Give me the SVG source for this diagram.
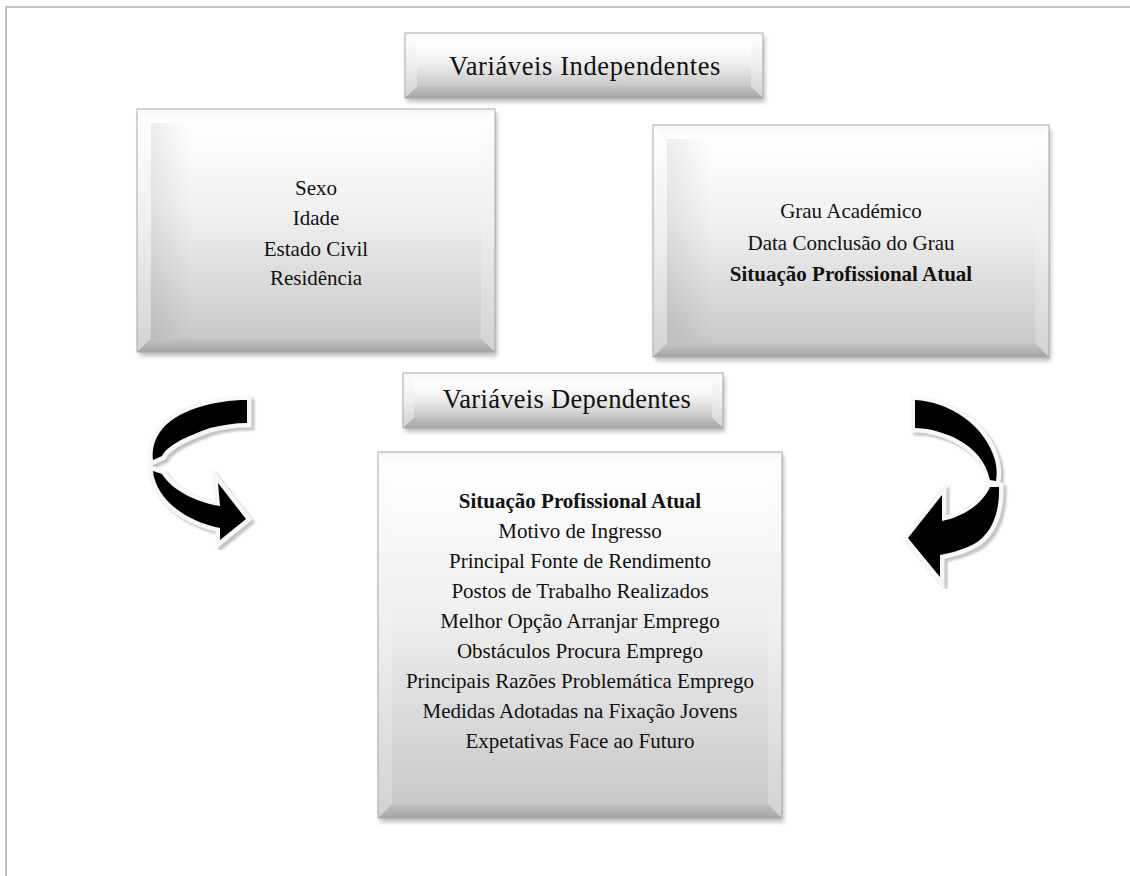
<svg xmlns="http://www.w3.org/2000/svg" width="1130" height="876" viewBox="0 0 1130 876">
<style>
.t{font-family:"Liberation Serif","Times New Roman",serif;fill:#111;text-anchor:middle}
.big{font-size:26.5px}
.sm{font-size:21px}
.b{font-weight:bold}
.edge{fill:none;stroke:#a9a9a9;stroke-width:1}
.top{fill:url(#gTop)}
.side{fill:url(#gSide)}
.bot{fill:url(#gBot)}
.face{fill:url(#gFace)}
.shadow{fill:#8a8a8a;opacity:.55;filter:url(#blur)}
.arr{fill:#000;stroke:#f7f7f7;stroke-width:9;stroke-linejoin:miter;paint-order:stroke}
.arrsh{fill:#c4c4c4;stroke:#c4c4c4;stroke-width:9;stroke-linejoin:miter;filter:url(#blur1)}
</style>
<defs>
<filter id="blur" x="-10%" y="-10%" width="120%" height="130%"><feGaussianBlur stdDeviation="2.2"/></filter>
<filter id="blur1" x="-10%" y="-10%" width="120%" height="120%"><feGaussianBlur stdDeviation="1.2"/></filter>
<linearGradient id="gFace" x1="0" y1="0" x2="0" y2="1">
<stop offset="0" stop-color="#ffffff"/><stop offset="0.4" stop-color="#f1f1f1"/><stop offset="1" stop-color="#c9c9c9"/>
</linearGradient>
<linearGradient id="gSide" x1="0" y1="0" x2="0" y2="1">
<stop offset="0" stop-color="#ffffff"/><stop offset="0.5" stop-color="#eeeeee"/><stop offset="1" stop-color="#d2d2d2"/>
</linearGradient>
<linearGradient id="gTop" x1="0" y1="0" x2="0" y2="1">
<stop offset="0" stop-color="#f6f6f6"/><stop offset="1" stop-color="#ffffff"/>
</linearGradient>
<linearGradient id="gBot" x1="0" y1="0" x2="0" y2="1">
<stop offset="0" stop-color="#c4c4c4"/><stop offset="1" stop-color="#a4a4a4"/>
</linearGradient>
<linearGradient id="gShadeL" x1="0" y1="0" x2="1" y2="0">
<stop offset="0" stop-color="#000" stop-opacity="0.07"/><stop offset="0.12" stop-color="#000" stop-opacity="0"/>
</linearGradient>
</defs>

<rect x="0" y="0" width="1130" height="876" fill="#ffffff"/>
<g id="page-border">
<path d="M6 876 V7 H1130" fill="none" stroke="#c2c2c2" stroke-width="2"/>
</g>

<g id="title-independentes">
<rect class="shadow" x="407" y="37" width="358" height="65"/>
<rect x="405" y="33" width="358" height="65" fill="#eee"/>
<polygon class="top" points="405,33 763,33 751,45 417,45"/>
<polygon class="side" points="405,33 417,45 417,86 405,98"/>
<polygon class="side" points="763,33 763,98 751,86 751,45"/>
<polygon class="bot" points="405,98 417,86 751,86 763,98"/>
<rect class="face" x="417" y="45" width="334" height="41"/>
<rect class="edge" x="405" y="33" width="358" height="65"/>
<text class="t big" x="585" y="75" letter-spacing="0.6">Variáveis Independentes</text>
</g>

<g id="box-pessoais">
<rect class="shadow" x="139" y="113" width="358" height="243"/>
<rect x="137" y="109" width="358" height="243" fill="#eee"/>
<polygon class="top" points="137,109 495,109 481,123 151,123"/>
<polygon class="side" points="137,109 151,123 151,338 137,352"/>
<polygon class="side" points="495,109 495,352 481,338 481,123"/>
<polygon class="bot" points="137,352 151,338 481,338 495,352"/>
<rect class="face" x="151" y="123" width="330" height="215"/>
<rect x="151" y="123" width="330" height="215" fill="url(#gShadeL)"/>
<rect class="edge" x="137" y="109" width="358" height="243"/>
<text class="t sm" x="316" y="195">Sexo</text>
<text class="t sm" x="316" y="225">Idade</text>
<text class="t sm" x="316" y="256">Estado Civil</text>
<text class="t sm" x="316" y="285">Residência</text>
</g>

<g id="box-academicas">
<rect class="shadow" x="655" y="129" width="396" height="232"/>
<rect x="653" y="125" width="396" height="232" fill="#eee"/>
<polygon class="top" points="653,125 1049,125 1035,139 667,139"/>
<polygon class="side" points="653,125 667,139 667,343 653,357"/>
<polygon class="side" points="1049,125 1049,357 1035,343 1035,139"/>
<polygon class="bot" points="653,357 667,343 1035,343 1049,357"/>
<rect class="face" x="667" y="139" width="368" height="204"/>
<rect x="667" y="139" width="368" height="204" fill="url(#gShadeL)"/>
<rect class="edge" x="653" y="125" width="396" height="232"/>
<text class="t sm" x="851" y="218">Grau Académico</text>
<text class="t sm" x="851" y="250">Data Conclusão do Grau</text>
<text class="t sm b" x="851" y="281">Situação Profissional Atual</text>
</g>

<g id="title-dependentes">
<rect class="shadow" x="405" y="377" width="320" height="55"/>
<rect x="403" y="373" width="320" height="55" fill="#eee"/>
<polygon class="top" points="403,373 723,373 712,384 414,384"/>
<polygon class="side" points="403,373 414,384 414,417 403,428"/>
<polygon class="side" points="723,373 723,428 712,417 712,384"/>
<polygon class="bot" points="403,428 414,417 712,417 723,428"/>
<rect class="face" x="414" y="384" width="298" height="33"/>
<rect class="edge" x="403" y="373" width="320" height="55"/>
<text class="t big" x="567" y="408" letter-spacing="0.3">Variáveis Dependentes</text>
</g>

<g id="box-dependentes">
<rect class="shadow" x="380" y="456" width="404" height="366"/>
<rect x="378" y="452" width="404" height="366" fill="#eee"/>
<polygon class="top" points="378,452 782,452 768,466 392,466"/>
<polygon class="side" points="378,452 392,466 392,804 378,818"/>
<polygon class="side" points="782,452 782,818 768,804 768,466"/>
<polygon class="bot" points="378,818 392,804 768,804 782,818"/>
<rect class="face" x="392" y="466" width="376" height="338"/>
<rect class="edge" x="378" y="452" width="404" height="366"/>
<text class="t sm b" x="580" y="508">Situação Profissional Atual</text>
<text class="t sm" x="580" y="538">Motivo de Ingresso</text>
<text class="t sm" x="580" y="568">Principal Fonte de Rendimento</text>
<text class="t sm" x="580" y="598">Postos de Trabalho Realizados</text>
<text class="t sm" x="580" y="628">Melhor Opção Arranjar Emprego</text>
<text class="t sm" x="580" y="658">Obstáculos Procura Emprego</text>
<text class="t sm" x="580" y="688">Principais Razões Problemática Emprego</text>
<text class="t sm" x="580" y="718">Medidas Adotadas na Fixação Jovens</text>
<text class="t sm" x="580" y="748">Expetativas Face ao Futuro</text>
</g>

<g id="connectors">
<g id="arrow-left">
<g transform="translate(3,3)">
<path class="arrsh" d="M247 400 C215 400 175 410 160 432 C153 442 152 452 153 460 L162 456 C168 445 185 437 210 428 C222 425 235 423 247 423 Z"/>
<path class="arrsh" d="M153 471 C155 495 180 520 220 528 L220 540 L246 519 L218 483 L220 506 C195 502 172 490 162 474 Z"/>
</g>
<path class="arr" d="M247 400 C215 400 175 410 160 432 C153 442 152 452 153 460 L162 456 C168 445 185 437 210 428 C222 425 235 423 247 423 Z"/>
<path class="arr" d="M153 471 C155 495 180 520 220 528 L220 540 L246 519 L218 483 L220 506 C195 502 172 490 162 474 Z"/>
</g>
<g id="arrow-right">
<g transform="translate(3,3)">
<path class="arrsh" d="M915 400 C950 402 985 425 995 460 C997 468 997 475 996 481 L990 480 C986 462 975 448 955 438 C942 432 928 428 915 428 Z"/>
<path class="arrsh" d="M999 487 C1000 515 990 540 965 548 C958 551 950 553 940 555 L940 577 L908 538 L942 495 L942 521 C962 517 982 505 990 487 Z"/>
</g>
<path class="arr" d="M915 400 C950 402 985 425 995 460 C997 468 997 475 996 481 L990 480 C986 462 975 448 955 438 C942 432 928 428 915 428 Z"/>
<path class="arr" d="M999 487 C1000 515 990 540 965 548 C958 551 950 553 940 555 L940 577 L908 538 L942 495 L942 521 C962 517 982 505 990 487 Z"/>
</g>
</g>
</svg>
